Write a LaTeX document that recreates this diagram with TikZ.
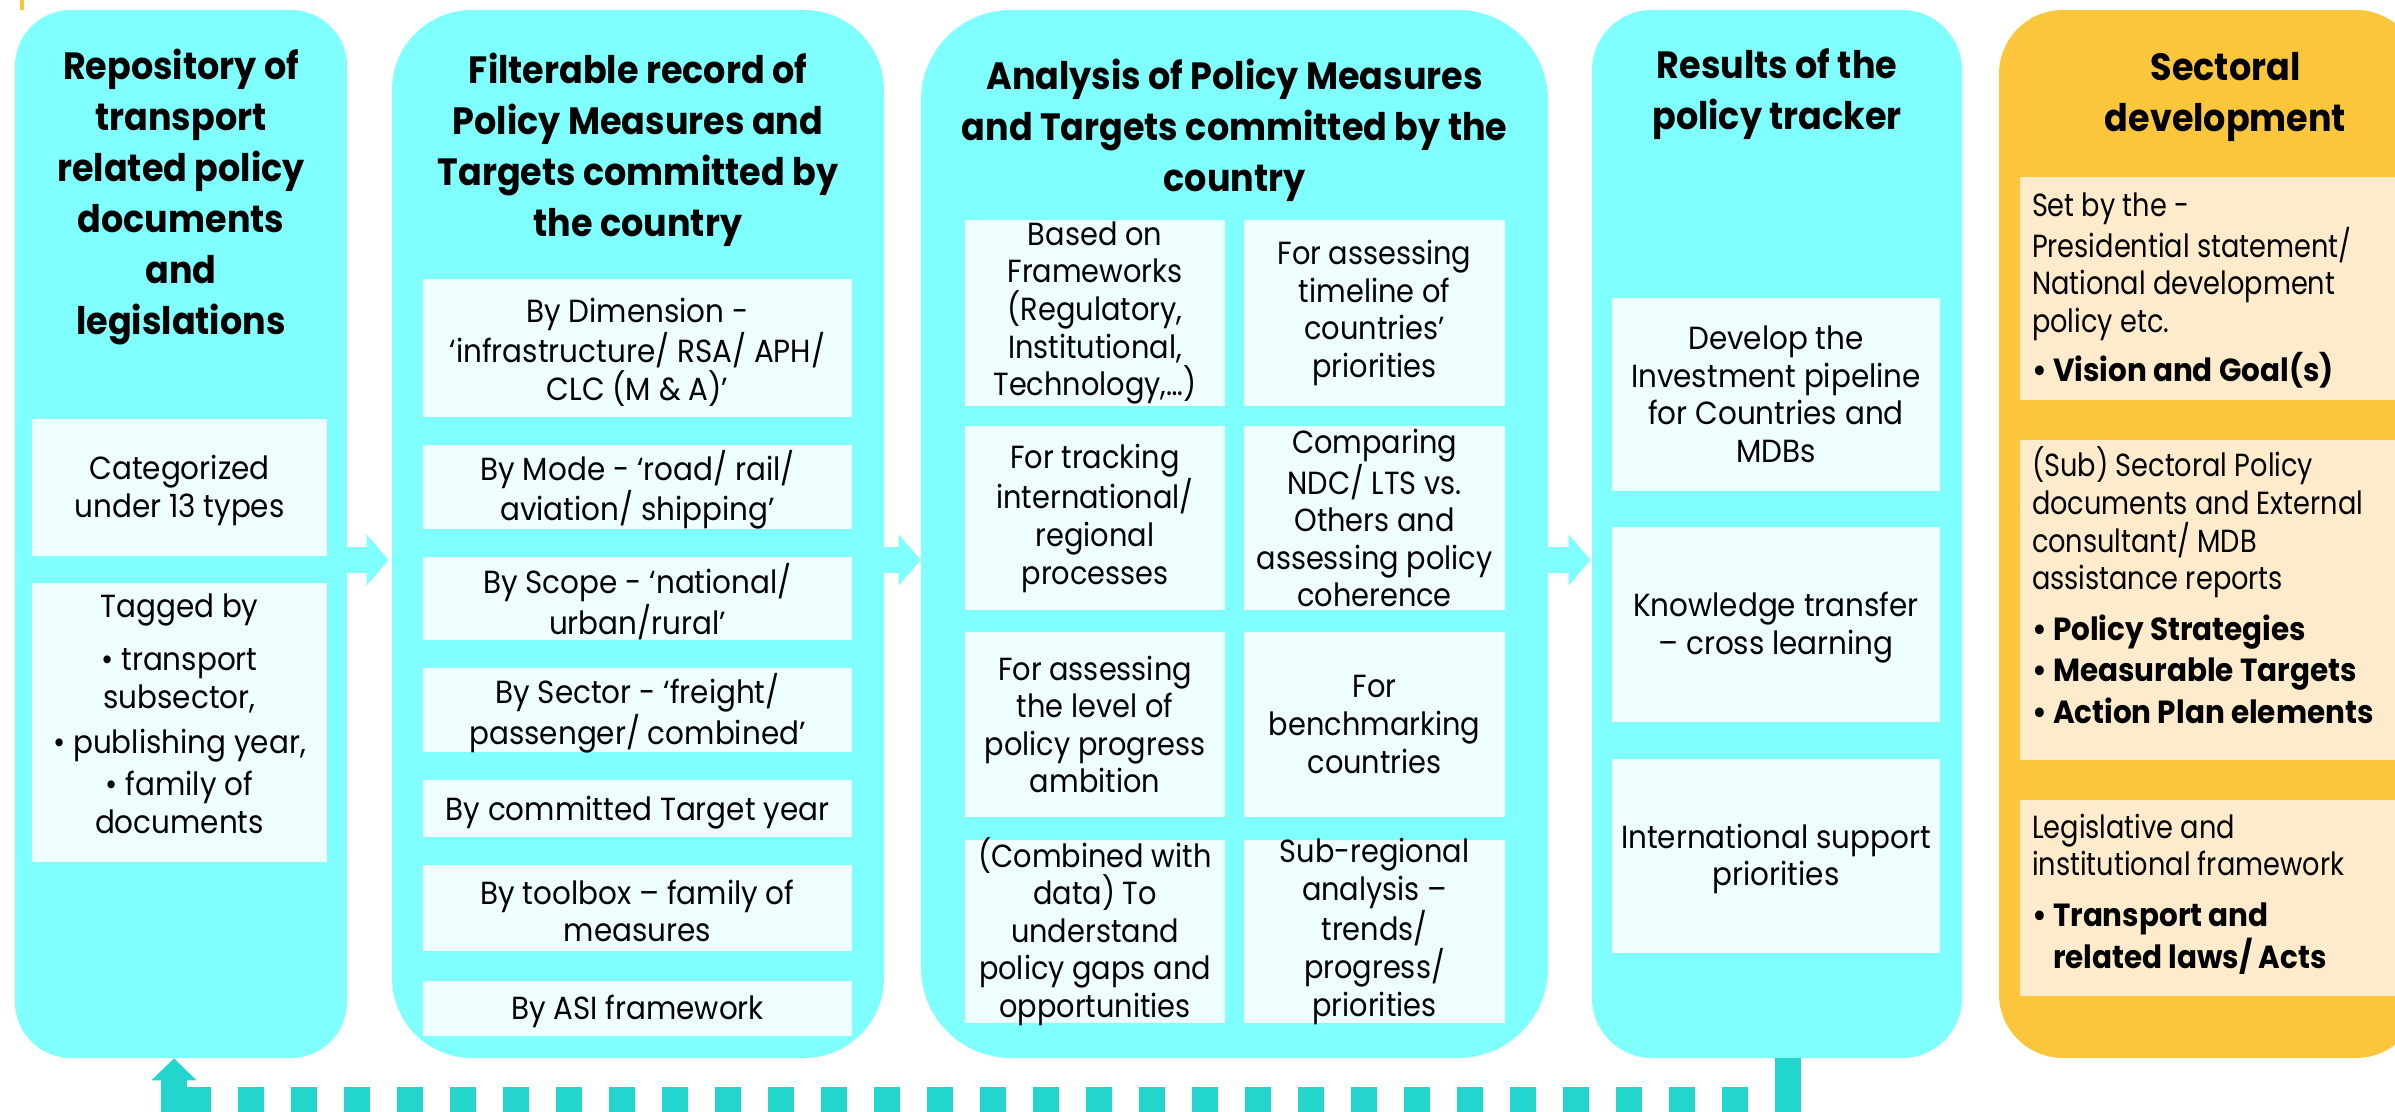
\documentclass[tikz,border=0pt]{standalone}
\usepackage{fontspec}
\setmainfont{Poppins}[FakeStretch=0.92]
\newfontfamily\condfont{Poppins}[FakeStretch=0.9]
\newfontfamily\fivefont{Poppins}[FakeStretch=0.85]
\usetikzlibrary{arrows.meta,calc,fit}
\definecolor{cy}{HTML}{80FFFF}
\definecolor{lt}{HTML}{EEFDFE}
\definecolor{org}{HTML}{FCC63C}
\definecolor{lorg}{HTML}{FEEBCB}
\definecolor{tl}{HTML}{22D5CD}
\newcommand\bdyf{\fontsize{16}{18.8}\selectfont}
\newcommand\hdrf{\fontsize{19}{25.5}\selectfont\bfseries}
\newcommand\bul[1]{{\rmfamily\bfseries • #1}}
\begin{document}
\begin{tikzpicture}[x=0.5pt,y=-0.5pt,
  col/.style={fill=cy,draw=none,inner sep=0pt,rounded corners=#1},
  ocol/.style={fill=org,draw=none,inner sep=0pt,rounded corners=#1},
  box/.style={fill=lt,draw=none,inner sep=0pt},
  obox/.style={fill=lorg,draw=none,inner sep=0pt},
  txt/.style={inner sep=0pt,align=center,font=\bdyf},
  ctxt/.style={txt,font=\bdyf\condfont},
  otext/.style={anchor=north west,inner sep=0pt,align=left,font=\bdyf\fivefont},
  hdr/.style={anchor=north,inner sep=0pt,align=center,font=\hdrf},
  blockarrow/.style={draw=cy,line width=13pt,-{Triangle[length=11pt,width=25pt]}},
  backline/.style={draw=tl,line width=13pt}
]
\useasboundingbox (0,0) rectangle (2395,1112);
\clip (0,0) rectangle (2395,1112);
\fill[org] (20,0) rectangle (24,10);

% columns
\node[col=28pt,fit={(15,10)(347,1058)}] (c1) {};
\node[col=40pt,fit={(392,10)(884,1058)}] (c2) {};
\node[col=45pt,fit={(921,10)(1548,1058)}] (c3) {};
\node[col=30pt,fit={(1592,10)(1962,1058)}] (c4) {};
\node[ocol=32pt,fit={(1999,10)(2420,1058)}] (c5) {};

% headers
\node[hdr] (h1) at ($(c1.north)+(0,39)$) {Repository of\\transport\\related policy\\documents\\and\\legislations};
\node[hdr] (h2) at ($(c2.north)+(0,43)$) {Filterable record of\\Policy Measures and\\Targets committed by\\the country};
\node[hdr] (h3) at ($(c3.north)+(0,49)$) {Analysis of Policy Measures\\and Targets committed by the\\country};
\node[hdr] (h4) at ($(c4.north)+(0,39)$) {Results of the\\policy tracker};
\node[hdr] (h5) at ($(c5.north)+(16,42)$) {Sectoral\\development};

% column 1
\node[box,fit={(32,419)(327,556)}] (b11) {};
\node[box,fit={(32,583)(327,862)}] (b12) {};
\node[txt] (t11) at ($(b11.center)+(0,3)$) {Categorized\\under 13 types};
\node[txt] (t12) at ($(b12.center)+(0,-9)$) {Tagged by\\[8pt]
 • transport\\subsector,\\[4pt]
 • publishing year,\\[2pt]
 • family of\\documents};

% column 2
\node[box,fit={(423,279)(852,417)}] (b21) {};
\node[box,fit={(423,445)(852,529)}] (b22) {};
\node[box,fit={(423,557)(852,640)}] (b23) {};
\node[box,fit={(423,668)(852,752)}] (b24) {};
\node[box,fit={(423,780)(852,837)}] (b25) {};
\node[box,fit={(423,865)(852,951)}] (b26) {};
\node[box,fit={(423,981)(852,1036)}] (b27) {};
\node[txt] (t21) at ($(b21.center)+(0,4)$) {By Dimension -\\‘infrastructure/ RSA/ APH/\\CLC (M \& A)’};
\node[txt] (t22) at ($(b22.center)+(0,3)$) {By Mode - ‘road/ rail/\\aviation/ shipping’};
\node[txt] (t23) at ($(b23.center)+(0,3)$) {By Scope - ‘national/\\urban/rural’};
\node[txt] (t24) at ($(b24.center)+(0,3)$) {By Sector - ‘freight/\\passenger/ combined’};
\node[txt] (t25) at ($(b25.center)+(0,4)$) {By committed Target year};
\node[txt] (t26) at ($(b26.center)+(0,3)$) {By toolbox – family of\\measures};
\node[txt] (t27) at ($(b27.center)+(0,3)$) {By ASI framework};

% column 3
\node[box,fit={(965,220)(1225,406)}] (b31) {};
\node[box,fit={(1244,220)(1505,406)}] (b32) {};
\node[box,fit={(965,426)(1225,610)}] (b33) {};
\node[box,fit={(1244,426)(1505,610)}] (b34) {};
\node[box,fit={(965,632)(1225,817)}] (b35) {};
\node[box,fit={(1244,632)(1505,817)}] (b36) {};
\node[box,fit={(965,840)(1225,1023)}] (b37) {};
\node[box,fit={(1244,840)(1505,1023)}] (b38) {};
\node[ctxt] (t31) at (b31.center) {Based on\\Frameworks\\(Regulatory,\\Institutional,\\Technology,…)};
\node[ctxt] (t32) at (b32.center) {For assessing\\timeline of\\countries’\\priorities};
\node[ctxt] (t33) at (b33.center) {For tracking\\international/\\regional\\processes};
\node[ctxt] (t34) at (b34.center) {Comparing\\NDC/ LTS vs.\\Others and\\assessing policy\\coherence};
\node[ctxt] (t35) at (b35.center) {For assessing\\the level of\\policy progress\\ambition};
\node[ctxt] (t36) at (b36.center) {For\\benchmarking\\countries};
\node[ctxt] (t37) at (b37.center) {(Combined with\\data) To\\understand\\policy gaps and\\opportunities};
\node[ctxt] (t38) at (b38.center) {Sub-regional\\analysis –\\trends/\\progress/\\priorities};

% column 4
\node[box,fit={(1612,298)(1940,491)}] (b41) {};
\node[box,fit={(1612,527)(1940,722)}] (b42) {};
\node[box,fit={(1612,759)(1940,953)}] (b43) {};
\node[txt] (t41) at (b41.center) {Develop the\\Investment pipeline\\for Countries and\\MDBs};
\node[txt] (t42) at ($(b42.center)+(0,3)$) {Knowledge transfer\\– cross learning};
\node[txt] (t43) at ($(b43.center)+(0,3)$) {International support\\priorities};

% column 5
\node[obox,fit={(2020,177)(2420,400)}] (b51) {};
\node[obox,fit={(2020,440)(2420,760)}] (b52) {};
\node[obox,fit={(2020,800)(2420,996)}] (b53) {};
\node[otext] (t51) at ($(b51.north west)+(12,16)$) {Set by the -\\Presidential statement/\\National development\\policy etc.\\[6pt]
 \bul{Vision and Goal(s)}};
\node[otext] (t52) at ($(b52.north west)+(12,7)$) {(Sub) Sectoral Policy\\documents and External\\consultant/ MDB\\assistance reports\\[6.5pt]
 \bul{Policy Strategies}\\[2pt]
 \bul{Measurable Targets}\\[2pt]
 \bul{Action Plan elements}};
\node[otext] (t53) at ($(b53.north west)+(12,14)$) {Legislative and\\institutional framework\\[6.5pt]
 {\rmfamily\bfseries • \begin{tabular}[t]{@{}l@{}}Transport and\\related laws/ Acts\end{tabular}}};

% block arrows
\draw[blockarrow] ($(c1.east)+(0,26)$) -- ($(c2.west)+(-3,26)$);
\draw[blockarrow] ($(c2.east)+(0,26)$) -- ($(c3.west)+(0,26)$);
\draw[blockarrow] ($(c3.east)+(0,26)$) -- ($(c4.west)+(-1,26)$);

% feedback dashed connector
\coordinate (fbR) at ($(c4.south)+(11,42)$);
\coordinate (fbL) at ($(c1.south)+(-7,42)$);
\draw[backline] ($(c4.south)+(11,0)$) -- ($(c4.south)+(11,56)$);
\draw[backline,dash pattern=on 13pt off 13.5pt] ($(fbR)+(13,0)$) -- ($(fbL)+(-13,0)$);
\draw[backline,-{Triangle[length=11pt,width=22pt]}] ($(c1.south)+(-7,56)$) -- (c1.south -| fbL);
\end{tikzpicture}
\end{document}
